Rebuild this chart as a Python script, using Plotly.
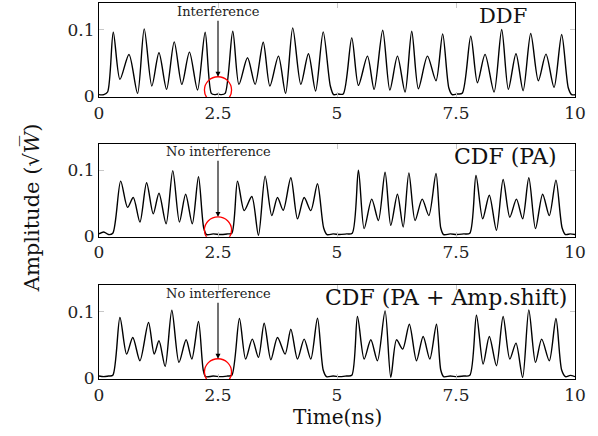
import plotly.graph_objects as go
from plotly.subplots import make_subplots

# ---- data ----
t_ddf = [0, 0.10, 0.18, 0.30, 0.44, 0.63, 0.81, 0.95, 1.11, 1.26, 1.42, 1.58, 1.74, 1.90,
         2.07, 2.23, 2.36, 2.43, 2.50, 2.57, 2.65, 2.81, 2.94, 3.12, 3.28, 3.45, 3.59, 3.77,
         3.92, 4.07, 4.24, 4.40, 4.55, 4.71, 4.86, 4.93, 5.02, 5.13, 5.31, 5.45, 5.64, 5.78,
         5.96, 6.11, 6.27, 6.43, 6.57, 6.71, 6.90, 7.08, 7.22, 7.35, 7.42, 7.52, 7.63,
         7.81, 7.95, 8.11, 8.30, 8.46, 8.60, 8.76, 8.91, 9.07, 9.23, 9.39, 9.56, 9.72,
         9.86, 9.93, 10.0]
a_ddf = [0.002, 0.002, 0.006, 0.096, 0.025, 0.0625, 0.004, 0.101, 0.015, 0.065, 0.010, 0.0815,
         0.0175, 0.066, 0.009, 0.096, 0.004, 0.002, 0.003, 0.002, 0.004, 0.0975, 0.0175, 0.0575,
         0.0175, 0.081, 0.015, 0.060, 0.004, 0.1025, 0.0175, 0.0635, 0.0075, 0.0965, 0.015,
         0.002, 0.003, 0.003, 0.0875, 0.016, 0.060, 0.010, 0.099, 0.009, 0.060, 0.006, 0.0975,
         0.011, 0.060, 0.023, 0.0935, 0.012, 0.002, 0.003, 0.004, 0.090, 0.020, 0.0627,
         0.006, 0.100, 0.010, 0.0637, 0.008, 0.094, 0.023, 0.063, 0.013, 0.0925, 0.012,
         0.002, 0.002]

t_pa = [0, 0.10, 0.20, 0.29, 0.455, 0.60, 0.72, 0.86, 1.00, 1.14, 1.26, 1.41, 1.55, 1.69,
        1.82, 1.96, 2.09, 2.20, 2.26, 2.40, 2.55, 2.70, 2.79, 2.91, 3.05, 3.21, 3.35, 3.49,
        3.63, 3.75, 3.87, 4.03, 4.17, 4.31, 4.45, 4.59, 4.72, 4.79, 4.92, 5.05, 5.20, 5.32,
        5.45, 5.57, 5.73, 5.87, 6.01, 6.13, 6.27, 6.39, 6.51, 6.64, 6.79, 6.93, 7.08, 7.18,
        7.24, 7.38, 7.52, 7.66, 7.79, 7.92, 8.06, 8.20, 8.35, 8.49, 8.63, 8.77, 8.90, 9.03,
        9.17, 9.32, 9.46, 9.60, 9.73, 9.80, 9.90, 10.0]
a_pa = [0.003, 0.006, 0.002, 0.004, 0.0835, 0.0435, 0.0585, 0.021, 0.081, 0.0335, 0.065,
        0.0185, 0.0995, 0.021, 0.0635, 0.0185, 0.090, 0.012, 0.002, 0.003, 0.002, 0.003,
        0.004, 0.0835, 0.0385, 0.060, 0.001, 0.091, 0.031, 0.0585, 0.039, 0.0885, 0.026,
        0.0585, 0.0385, 0.0795, 0.012, 0.002, 0.003, 0.002, 0.003, 0.004, 0.100, 0.011,
        0.056, 0.0235, 0.097, 0.016, 0.0635, 0.0135, 0.096, 0.0235, 0.056, 0.031, 0.095,
        0.012, 0.002, 0.003, 0.002, 0.003, 0.004, 0.092, 0.026, 0.062, 0.0085, 0.086,
        0.0285, 0.056, 0.026, 0.0885, 0.011, 0.0635, 0.031, 0.085, 0.012, 0.002, 0.003,
        0.002]

t_pas = [0, 0.10, 0.20, 0.29, 0.44, 0.58, 0.71, 0.86, 1.04, 1.16, 1.26, 1.39, 1.53, 1.68,
         1.83, 1.95, 2.09, 2.19, 2.24, 2.40, 2.55, 2.70, 2.79, 2.95, 3.08, 3.22, 3.35, 3.47,
         3.61, 3.75, 3.91, 4.03, 4.17, 4.31, 4.45, 4.59, 4.71, 4.78, 4.92, 5.05, 5.20, 5.31,
         5.43, 5.57, 5.71, 5.85, 6.01, 6.13, 6.25, 6.38, 6.52, 6.67, 6.81, 6.95, 7.09, 7.18,
         7.24, 7.38, 7.52, 7.66, 7.79, 7.93, 8.07, 8.20, 8.35, 8.49, 8.63, 8.76, 8.90, 9.03,
         9.17, 9.30, 9.46, 9.60, 9.72, 9.80, 9.90, 10.0]
a_pas = [0.003, 0.002, 0.003, 0.004, 0.091, 0.036, 0.061, 0.026, 0.0835, 0.036, 0.056,
         0.0175, 0.102, 0.0235, 0.0575, 0.0285, 0.085, 0.012, 0.002, 0.003, 0.002, 0.003,
         0.004, 0.0895, 0.0285, 0.0585, 0.031, 0.0825, 0.0275, 0.061, 0.036, 0.0735, 0.0285,
         0.0585, 0.0285, 0.090, 0.012, 0.002, 0.003, 0.002, 0.003, 0.004, 0.0925, 0.0285,
         0.0575, 0.026, 0.101, 0.001, 0.0575, 0.0435, 0.081, 0.026, 0.0625, 0.0285, 0.081,
         0.012, 0.002, 0.003, 0.002, 0.003, 0.004, 0.0945, 0.021, 0.0625, 0.0185, 0.0925,
         0.0285, 0.0525, 0.001, 0.1025, 0.0235, 0.0585, 0.026, 0.0895, 0.012, 0.002, 0.004,
         0.002]

series = [(t_ddf, a_ddf), (t_pa, a_pa), (t_pas, a_pas)]
panel_labels = ["DDF", "CDF (PA)", "CDF (PA + Amp.shift)"]
notes = ["Interference", "No interference", "No interference"]
x_ticks = [0, 2.5, 5, 7.5, 10]
x_tick_text = ["0", "2.5", "5", "7.5", "10"]
y_ticks = [0, 0.1]
y_tick_text = ["0", "0.1"]

FONT = "DejaVu Serif"

fig = make_subplots(rows=3, cols=1, vertical_spacing=0.1)
domains = [(0.75, 1.0), (0.378, 0.625), (0.0, 0.25)]

for i, (t, a) in enumerate(series):
    fig.add_trace(go.Scatter(x=t, y=a, mode="lines",
                             line=dict(color="black", width=1.4, shape="spline", smoothing=0.8),
                             showlegend=False, hoverinfo="skip"), row=i + 1, col=1)
    xa = "xaxis" if i == 0 else f"xaxis{i+1}"
    ya = "yaxis" if i == 0 else f"yaxis{i+1}"
    fig.layout[xa].update(range=[0, 10], tickvals=x_ticks, ticktext=x_tick_text,
                          showgrid=False, zeroline=False, showline=True, linecolor="black",
                          linewidth=1.2, mirror="ticks", ticks="inside", ticklen=5,
                          tickcolor="#c8c8c8", tickfont=dict(family=FONT, size=17, color="#222"))
    fig.layout[ya].update(range=[-0.0015, 0.14], domain=list(domains[i]), tickvals=y_ticks,
                          ticktext=y_tick_text, showgrid=False, zeroline=False, showline=True,
                          linecolor="black", linewidth=1.2, mirror="ticks", ticks="inside",
                          ticklen=5, tickcolor="#c8c8c8",
                          tickfont=dict(family=FONT, size=17, color="#222"))
    xr = "x" if i == 0 else f"x{i+1}"
    yr = "y" if i == 0 else f"y{i+1}"
    fig.add_shape(type="circle", xref=xr, yref=yr, x0=2.215, x1=2.785, y0=-0.011, y1=0.029,
                  line=dict(color="red", width=1.3))
    fig.add_annotation(x=2.5, y=0.029, xref=xr, yref=yr, text=notes[i], showarrow=True,
                       ax=0, ay=-65, arrowhead=2, arrowsize=0.9, arrowwidth=1.1,
                       arrowcolor="black", font=dict(family=FONT, size=13, color="#222"))

fig.add_annotation(x=8.49, y=0.121, xref="x", yref="y", text=panel_labels[0], showarrow=False,
                   font=dict(family=FONT, size=21, color="#111"))
fig.add_annotation(x=8.53, y=0.1206, xref="x2", yref="y2", text=panel_labels[1], showarrow=False,
                   font=dict(family=FONT, size=22, color="#111"))
fig.add_annotation(x=9.87, y=0.121, xref="x3", yref="y3", text=panel_labels[2], showarrow=False,
                   xanchor="right", font=dict(family=FONT, size=22, color="#111"))

fig.add_annotation(x=-0.14, y=0.455, xref="paper", yref="paper", xanchor="center",
                   yanchor="middle", text="Amplitude (√<i>W̅</i>)", textangle=-90,
                   showarrow=False, font=dict(family=FONT, size=21, color="#111"))
fig.add_annotation(x=0.5, y=-0.1, xref="paper", yref="paper", text="Time(ns)", showarrow=False,
                   yanchor="middle", font=dict(family=FONT, size=20, color="#111"))

fig.update_layout(width=598, height=436, margin=dict(l=99, r=23, t=3, b=57),
                  paper_bgcolor="white", plot_bgcolor="white")
fig.write_html("out.html", config={"displayModeBar": False},
               post_script="document.body.style.margin='0';")
